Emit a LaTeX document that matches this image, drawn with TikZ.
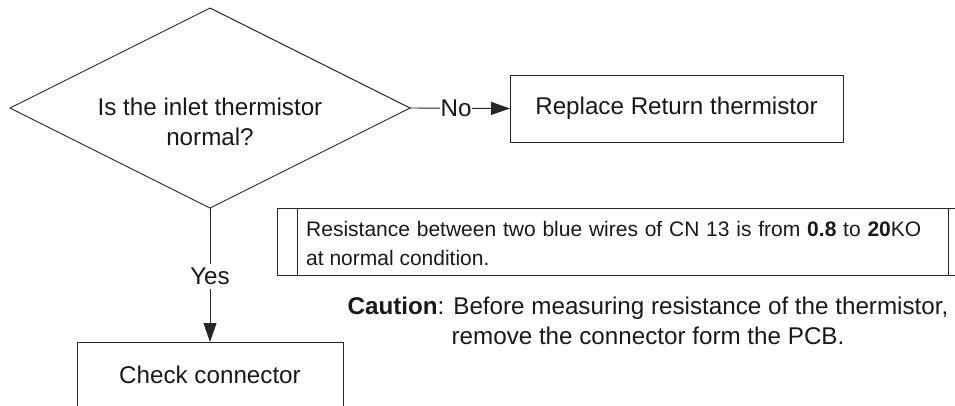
\documentclass[tikz,border=0pt]{standalone}
\usepackage{fontspec}
\setmainfont{Liberation Sans}
\usetikzlibrary{shapes.geometric,arrows.meta}
\begin{document}
\begin{tikzpicture}[x=1pt,y=-1pt,
  ln/.style={draw=black!85, line width=0.9pt},
  txt/.style={text=black!90, font=\fontsize{24.2}{30}\selectfont, inner sep=0pt},
  rtxt/.style={text=black!90, font=\fontsize{21}{29.5}\selectfont, inner sep=0pt},
  box/.style={rectangle, ln, inner sep=0pt, outer sep=0pt},
  arr/.style={ln, -{Triangle[length=19pt,width=13pt]}},
  lbl/.style={txt, fill=white, inner xsep=1pt}
]
\useasboundingbox (0,0) rectangle (955,405);
% decision
\node[diamond, ln, aspect=2, minimum width=400pt, minimum height=200pt, inner sep=0pt, outer sep=0pt] (q) at (210,108) {};
\node[txt, align=center, anchor=north] (qt) at (210,97.4) {Is the inlet thermistor\\normal?};
% boxes
\node[box, txt, minimum width=333pt, minimum height=67pt] (r) at (676.5,108.5) {Replace Return thermistor};
\node[box, txt, minimum width=266pt, minimum height=66pt] (c) at (210,375) {Check connector};
% connectors
\draw[arr] (q.east) -- node[lbl, pos=0.46] {No} (r.west);
\draw[arr] (q.south) -- node[lbl, inner ysep=4pt, pos=0.51] {Yes} (c.north);
% note table
\node[box, minimum width=690pt, minimum height=67pt, anchor=north west] (tbl) at (277,208) {};
\draw[ln] ([xshift=20pt]tbl.north west) -- ([xshift=20pt]tbl.south west);
\draw[ln] ([xshift=671pt]tbl.north west) -- ([xshift=671pt]tbl.south west);
\node[rtxt, align=left, anchor=north west] (rt) at (306,221) {{\spaceskip=6.8pt Resistance between two blue wires of CN 13 is from \textbf{0.8} to \textbf{20}KO}\\at normal condition.};
% caution
\node[txt, align=center, anchor=north] (ct) at (648,296.5) {\textbf{Caution}: Before measuring resistance of the thermistor,\\remove the connector form the PCB.};
\end{tikzpicture}
\end{document}
